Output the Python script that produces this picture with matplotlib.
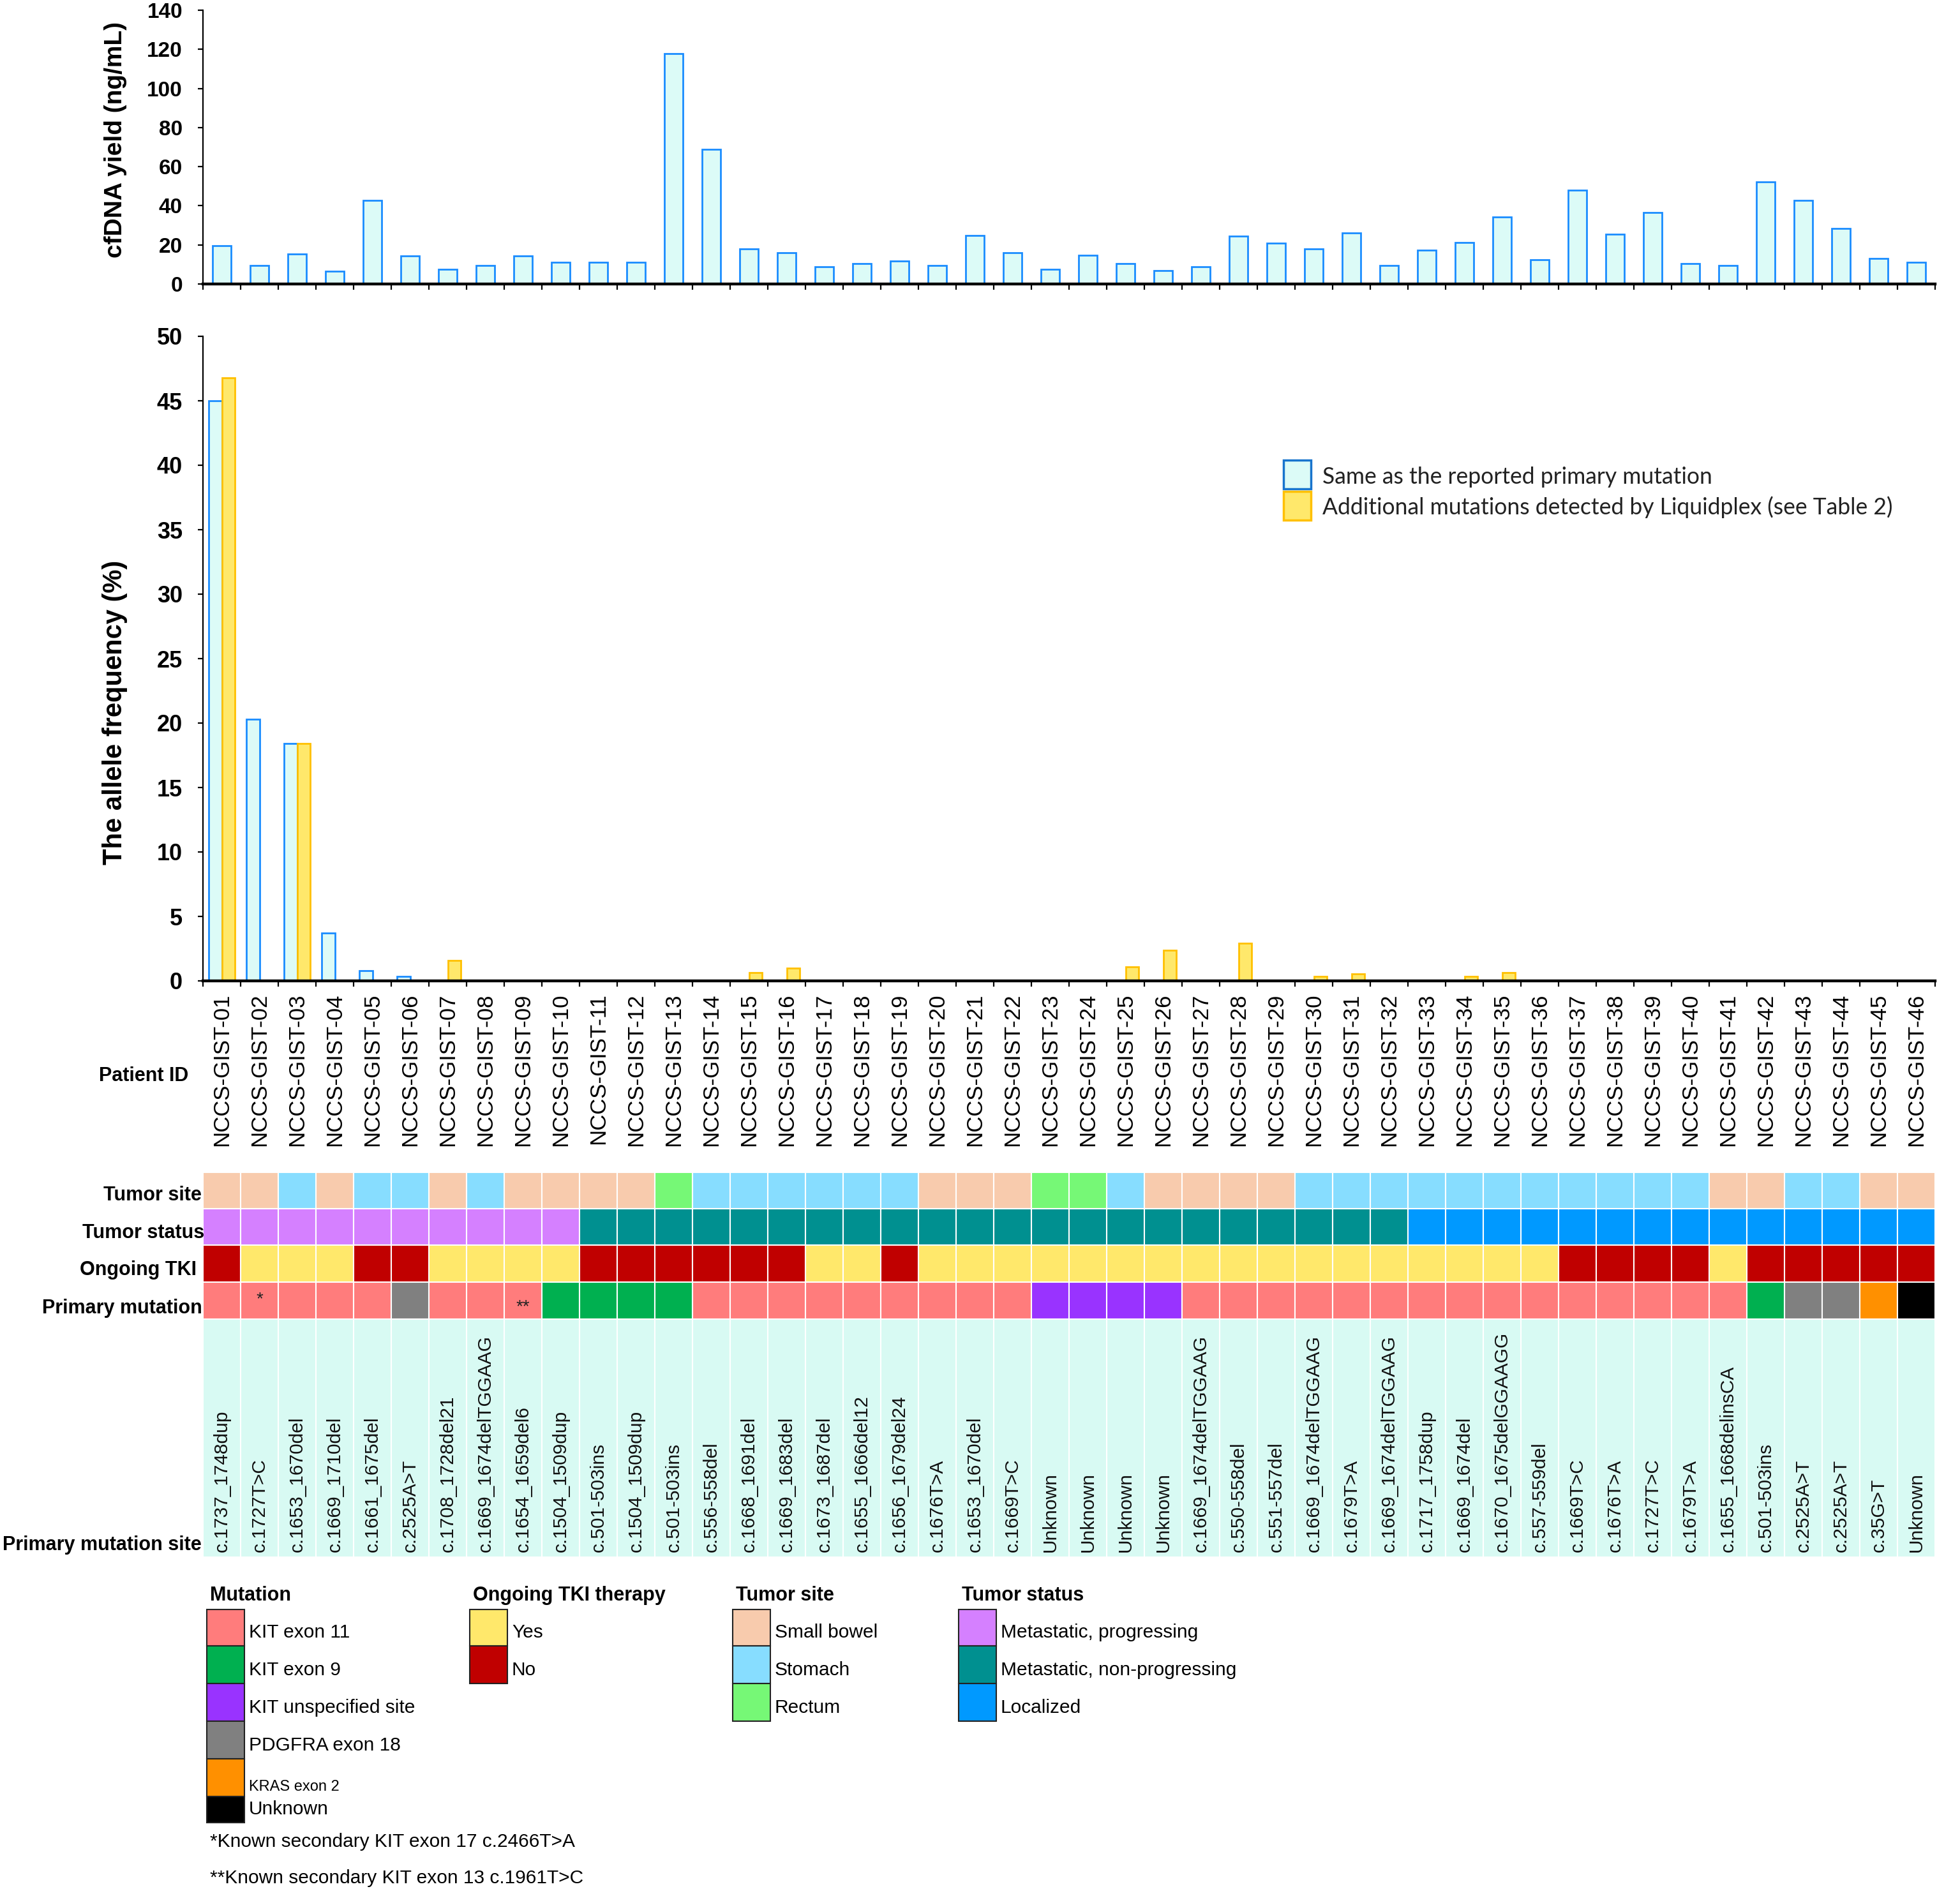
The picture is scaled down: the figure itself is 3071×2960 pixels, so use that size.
import matplotlib
matplotlib.use('Agg')
import matplotlib.pyplot as plt
from matplotlib.patches import Rectangle
import numpy as np

W, H = 3071, 2960
DPI = 100
plt.rcParams['font.family'] = ['Liberation Sans', 'DejaVu Sans']

# ---------------- data ----------------
patients = ['NCCS-GIST-01', 'NCCS-GIST-02', 'NCCS-GIST-03', 'NCCS-GIST-04', 'NCCS-GIST-05',
            'NCCS-GIST-06', 'NCCS-GIST-07', 'NCCS-GIST-08', 'NCCS-GIST-09', 'NCCS-GIST-10',
            'NCCS-GIST-11', 'NCCS-GIST-12', 'NCCS-GIST-13', 'NCCS-GIST-14', 'NCCS-GIST-15',
            'NCCS-GIST-16', 'NCCS-GIST-17', 'NCCS-GIST-18', 'NCCS-GIST-19', 'NCCS-GIST-20',
            'NCCS-GIST-21', 'NCCS-GIST-22', 'NCCS-GIST-23', 'NCCS-GIST-24', 'NCCS-GIST-25',
            'NCCS-GIST-26', 'NCCS-GIST-27', 'NCCS-GIST-28', 'NCCS-GIST-29', 'NCCS-GIST-30',
            'NCCS-GIST-31', 'NCCS-GIST-32', 'NCCS-GIST-33', 'NCCS-GIST-34', 'NCCS-GIST-35',
            'NCCS-GIST-36', 'NCCS-GIST-37', 'NCCS-GIST-38', 'NCCS-GIST-39', 'NCCS-GIST-40',
            'NCCS-GIST-41', 'NCCS-GIST-42', 'NCCS-GIST-43', 'NCCS-GIST-44', 'NCCS-GIST-45',
            'NCCS-GIST-46']

cfdna_yield = [19.5, 9.4, 15.4, 6.4, 42.7, 14.2, 7.6, 9.4, 14.2, 11.2,
               11.2, 11.2, 117.7, 69.0, 17.8, 15.9, 8.9, 10.6, 11.8, 9.4,
               24.9, 15.9, 7.6, 14.7, 10.6, 6.9, 8.9, 24.4, 20.8, 17.8,
               26.1, 9.4, 17.2, 21.3, 34.3, 12.3, 48.1, 25.4, 36.7, 10.6,
               9.4, 52.2, 42.7, 28.4, 13.0, 11.2]

af_primary = [45.0, 20.3, 18.4, 3.7, 0.8, 0.35, 0, 0, 0, 0,
              0, 0, 0, 0, 0, 0, 0, 0, 0, 0,
              0, 0, 0, 0, 0, 0, 0, 0, 0, 0,
              0, 0, 0, 0, 0, 0, 0, 0, 0, 0,
              0, 0, 0, 0, 0, 0]

af_additional = [46.8, 0, 18.4, 0, 0, 0, 1.6, 0, 0, 0,
                 0, 0, 0, 0, 0.65, 1.0, 0, 0, 0, 0,
                 0, 0, 0, 0, 1.1, 2.4, 0, 2.9, 0, 0.35,
                 0.55, 0, 0, 0.35, 0.65, 0, 0, 0, 0, 0,
                 0, 0, 0, 0, 0, 0]

tumor_site = ['SB', 'SB', 'ST', 'SB', 'ST', 'ST', 'SB', 'ST', 'SB', 'SB',
              'SB', 'SB', 'RE', 'ST', 'ST', 'ST', 'ST', 'ST', 'ST', 'SB',
              'SB', 'SB', 'RE', 'RE', 'ST', 'SB', 'SB', 'SB', 'SB', 'ST',
              'ST', 'ST', 'ST', 'ST', 'ST', 'ST', 'ST', 'ST', 'ST', 'ST',
              'SB', 'SB', 'ST', 'ST', 'SB', 'SB']

tumor_status = ['MP'] * 10 + ['MN'] * 22 + ['LO'] * 14

ongoing_tki = ['N', 'Y', 'Y', 'Y', 'N', 'N', 'Y', 'Y', 'Y', 'Y',
               'N', 'N', 'N', 'N', 'N', 'N', 'Y', 'Y', 'N', 'Y',
               'Y', 'Y', 'Y', 'Y', 'Y', 'Y', 'Y', 'Y', 'Y', 'Y',
               'Y', 'Y', 'Y', 'Y', 'Y', 'Y', 'N', 'N', 'N', 'N',
               'Y', 'N', 'N', 'N', 'N', 'N']

primary_mutation = ['K11', 'K11', 'K11', 'K11', 'K11', 'PDG', 'K11', 'K11', 'K11', 'K9',
                    'K9', 'K9', 'K9', 'K11', 'K11', 'K11', 'K11', 'K11', 'K11', 'K11',
                    'K11', 'K11', 'KU', 'KU', 'KU', 'KU', 'K11', 'K11', 'K11', 'K11',
                    'K11', 'K11', 'K11', 'K11', 'K11', 'K11', 'K11', 'K11', 'K11', 'K11',
                    'K11', 'K9', 'PDG', 'PDG', 'KRAS', 'UNK']

mutation_marks = {1: '*', 8: '**'}

mutation_site = ['c.1737_1748dup', 'c.1727T>C', 'c.1653_1670del', 'c.1669_1710del',
                 'c.1661_1675del', 'c.2525A>T', 'c.1708_1728del21', 'c.1669_1674delTGGAAG',
                 'c.1654_1659del6', 'c.1504_1509dup', 'c.501-503ins', 'c.1504_1509dup',
                 'c.501-503ins', 'c.556-558del', 'c.1668_1691del', 'c.1669_1683del',
                 'c.1673_1687del', 'c.1655_1666del12', 'c.1656_1679del24', 'c.1676T>A',
                 'c.1653_1670del', 'c.1669T>C', 'Unknown', 'Unknown', 'Unknown', 'Unknown',
                 'c.1669_1674delTGGAAG', 'c.550-558del', 'c.551-557del', 'c.1669_1674delTGGAAG',
                 'c.1679T>A', 'c.1669_1674delTGGAAG', 'c.1717_1758dup', 'c.1669_1674del',
                 'c.1670_1675delGGAAGG', 'c.557-559del', 'c.1669T>C', 'c.1676T>A',
                 'c.1727T>C', 'c.1679T>A', 'c.1655_1668delinsCA', 'c.501-503ins',
                 'c.2525A>T', 'c.2525A>T', 'c.35G>T', 'Unknown']

# legend categories
mut_keys = ['K11', 'K9', 'KU', 'PDG', 'KRAS', 'UNK']
mut_labels = ['KIT exon 11', 'KIT exon 9', 'KIT unspecified site', 'PDGFRA exon 18',
              'KRAS exon 2', 'Unknown']
mut_colors = ['#FF7C7C', '#00B050', '#9933FF', '#808080', '#FF9000', '#000000']

tki_keys = ['Y', 'N']
tki_labels = ['Yes', 'No']
tki_colors = ['#FFE86B', '#C00000']

site_keys = ['SB', 'ST', 'RE']
site_labels = ['Small bowel', 'Stomach', 'Rectum']
site_colors = ['#F8CBAD', '#87DDFF', '#76F876']

status_keys = ['MP', 'MN', 'LO']
status_labels = ['Metastatic, progressing', 'Metastatic, non-progressing', 'Localized']
status_colors = ['#D580FF', '#009090', '#0099FF']

footnotes = ['*Known secondary KIT exon 17 c.2466T>A', '**Known secondary KIT exon 13 c.1961T>C']

legend_af = ['Same as the reported primary mutation',
             'Additional mutations detected by Liquidplex (see Table 2)']

BAR_FILL = '#DCFBF7'
BAR_EDGE = '#1A8CFF'
YEL_FILL = '#FFE86B'
YEL_EDGE = '#FFC000'
SITE_BG = '#D8FAF3'

# ---------------- figure ----------------
fig = plt.figure(figsize=(W / DPI, H / DPI), dpi=DPI)


def rect(x0, y0, x1, y1):
    return [x0 / W, 1 - y1 / H, (x1 - x0) / W, (y1 - y0) / H]


X0, X1 = 318, 3032
n = len(patients)
xc = np.arange(n) + 0.5


def style_axis(ax, ylab_size):
    for s in ['top', 'right']:
        ax.spines[s].set_visible(False)
    ax.spines['left'].set_linewidth(1.6)
    ax.spines['bottom'].set_linewidth(3.2)
    ax.set_xlim(0, n)
    ax.set_xticks(np.arange(0, n + 1))
    ax.set_xticklabels([])
    ax.tick_params(axis='x', which='major', direction='out', length=6.5, width=1.6)
    ax.tick_params(axis='y', direction='out', length=6, width=1.6, pad=17,
                   labelsize=ylab_size)
    for lb in ax.get_yticklabels():
        lb.set_fontweight('bold')


# cfDNA yield panel
ax1 = fig.add_axes(rect(X0, 16, X1, 445))
ax1.bar(xc, cfdna_yield, width=0.5, color=BAR_FILL, edgecolor=BAR_EDGE, linewidth=2)
ax1.set_ylim(0, 140)
ax1.set_yticks(np.arange(0, 141, 20))
style_axis(ax1, 24)

# allele frequency panel
ax2 = fig.add_axes(rect(X0, 527, X1, 1537))
w = 0.35
ap = np.array(af_primary)
aa = np.array(af_additional)
mp = ap > 0
ma = aa > 0
ax2.bar(xc[mp] - w / 2, ap[mp], width=w, color=BAR_FILL, edgecolor=BAR_EDGE, linewidth=2)
ax2.bar(xc[ma] + w / 2, aa[ma], width=w, color=YEL_FILL, edgecolor=YEL_EDGE, linewidth=2)
ax2.set_ylim(0, 50)
ax2.set_yticks(np.arange(0, 51, 5))
style_axis(ax2, 26)
ax2.set_xticks(xc, minor=True)
ax2.set_xticklabels(patients, minor=True, rotation=90, fontsize=25)
ax2.tick_params(axis='x', which='minor', length=0, pad=14)
for lb in ax2.get_xticklabels(minor=True):
    lb.set_va('top')

# annotation tracks
HM_TOP, HM_BOT = 1837, 2440
axh = fig.add_axes(rect(X0, HM_TOP, X1, HM_BOT))
axh.set_xlim(0, n)
axh.set_ylim(HM_BOT - HM_TOP, 0)
axh.axis('off')
rows = [(0, 57), (57, 114), (114, 172), (172, 230), (230, 603)]
site_map = dict(zip(site_keys, site_colors))
status_map = dict(zip(status_keys, status_colors))
tki_map = dict(zip(tki_keys, tki_colors))
mut_map = dict(zip(mut_keys, mut_colors))
tracks = [[site_map[v] for v in tumor_site],
          [status_map[v] for v in tumor_status],
          [tki_map[v] for v in ongoing_tki],
          [mut_map[v] for v in primary_mutation],
          [SITE_BG] * n]
for (y0, y1), cols in zip(rows, tracks):
    for i, c in enumerate(cols):
        axh.add_patch(Rectangle((i, y0), 1, y1 - y0, facecolor=c, edgecolor='white',
                                linewidth=1.5))
for i, m in mutation_marks.items():
    yy = 199 if m == '*' else 211
    axh.text(i + 0.5, yy, m, ha='center', va='center', fontsize=20, color='#222222')
for i, s in enumerate(mutation_site):
    axh.text(i + 0.5, 595, s, rotation=90, ha='center', va='bottom', fontsize=21.5,
             color='#111111')

# overlay for free text and legends (pixel coordinates)
ax_o = fig.add_axes([0, 0, 1, 1])
ax_o.set_xlim(0, W)
ax_o.set_ylim(H, 0)
ax_o.axis('off')

ax_o.text(181, 219, 'cfDNA yield (ng/mL)', rotation=90, ha='center', va='center',
          fontsize=28, fontweight='bold')
ax_o.text(180, 1116, 'The allele frequency (%)', rotation=90, ha='center', va='center',
          fontsize=30, fontweight='bold')

row_labels = [('Patient ID', 295, 1686), ('Tumor site', 316, 1873),
              ('Tumor status', 320, 1932), ('Ongoing TKI', 308, 1990),
              ('Primary mutation', 317, 2050), ('Primary mutation site', 316, 2421)]
for t, x, y in row_labels:
    ax_o.text(x, y, t, ha='right', va='center', fontsize=22, fontweight='bold')

# AF legend
ax_o.add_patch(Rectangle((2011, 721), 43, 45, facecolor=BAR_FILL, edgecolor='#1874CD',
                         linewidth=2.5))
ax_o.add_patch(Rectangle((2011, 770), 43, 45, facecolor=YEL_FILL, edgecolor=YEL_EDGE,
                         linewidth=2.5))
ax_o.text(2072, 748, legend_af[0], ha='left', va='center', fontsize=25.6,
          family=['Lato', 'DejaVu Sans'], color='#222222')
ax_o.text(2072, 795, legend_af[1], ha='left', va='center', fontsize=25.6,
          family=['Lato', 'DejaVu Sans'], color='#222222')

# bottom legends
box_edges = [2522, 2579, 2638, 2697, 2756, 2815, 2856]
label_y = [2558, 2617, 2676, 2735, 2800, 2835]


def legend_block(x0, title, labels, colors, small=None):
    ax_o.text(x0 + 5, 2500, title, ha='left', va='center', fontsize=22, fontweight='bold')
    for k, (lab, col) in enumerate(zip(labels, colors)):
        y0, y1 = box_edges[k], box_edges[k + 1]
        ax_o.add_patch(Rectangle((x0, y0), 59, y1 - y0, facecolor=col,
                                 edgecolor='#222222', linewidth=1.5))
        fs = 17 if (small is not None and k in small) else 21.5
        ax_o.text(x0 + 66, label_y[k], lab, ha='left', va='center', fontsize=fs)


legend_block(324, 'Mutation', mut_labels, mut_colors, small=[4])
legend_block(736, 'Ongoing TKI therapy', tki_labels, tki_colors)
legend_block(1148, 'Tumor site', site_labels, site_colors)
legend_block(1502, 'Tumor status', status_labels, status_colors)

ax_o.text(329, 2886, footnotes[0], ha='left', va='center', fontsize=21.5)
ax_o.text(329, 2943, footnotes[1], ha='left', va='center', fontsize=21.5)

fig.savefig('out.png', dpi=DPI)
